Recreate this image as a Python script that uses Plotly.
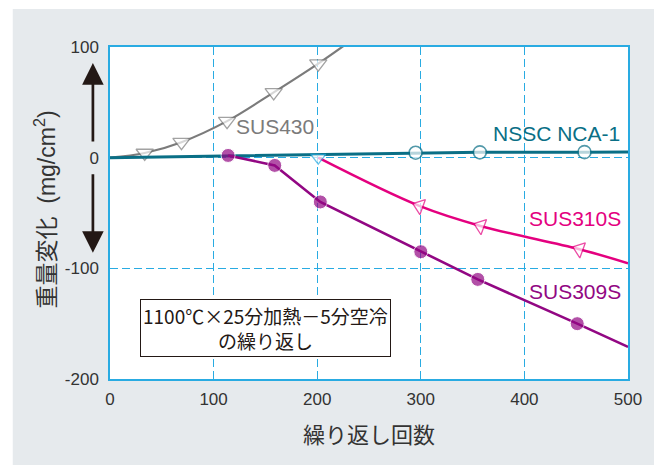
import plotly.graph_objects as go

# ---- data ----
sus430_x = [0, 33.5, 69, 113, 158, 201, 230]
sus430_y = [0, 4.2, 14, 33, 59, 85, 104]
sus430_mk = [0, 15, 15, 15, 15, 15, 0]

nca_x = [0, 100, 200, 295, 357, 458, 500]
nca_y = [0, 1.5, 3, 4.5, 4.8, 5, 5.2]
nca_mk = [0, 0, 0, 13, 13, 13, 0]

sus309_x = [114, 159, 203, 300, 355, 451, 500]
sus309_y = [2, -7, -40, -85, -110, -150, -171]
sus309_mk = [14, 14, 14, 14, 14, 14, 0]

sus310_x = [201, 298.6, 357.6, 453, 500]
sus310_y = [0, -43.6, -61.7, -82.7, -95.4]
sus310_mk = [13, 14, 14, 14, 0]

x_ticks = [0, 100, 200, 300, 400, 500]
y_ticks = [-200, -100, 0, 100]

GRAY = "#7b7b7b"
TEAL = "#0a6f86"
PINK = "#e4007f"
PURPLE = "#920783"
CYAN = "#29abe2"
TXT = "#333333"
FONT = "Liberation Sans, Noto Sans CJK JP, sans-serif"
JFONT = "Noto Sans CJK JP, sans-serif"

fig = go.Figure()

fig.add_trace(go.Scatter(
    x=sus430_x, y=sus430_y, mode="lines+markers",
    line=dict(color=GRAY, width=2.2, shape="spline"),
    marker=dict(symbol="triangle-down", size=sus430_mk, color="white",
                line=dict(color=GRAY, width=1.3)),
    showlegend=False))

fig.add_trace(go.Scatter(
    x=nca_x, y=nca_y, mode="lines+markers",
    line=dict(color=TEAL, width=3),
    marker=dict(symbol="circle", size=nca_mk, color="white",
                line=dict(color=TEAL, width=1.6)),
    showlegend=False))

fig.add_trace(go.Scatter(
    x=sus310_x, y=sus310_y, mode="lines+markers",
    line=dict(color=PINK, width=2.5, shape="spline"),
    marker=dict(symbol=["triangle-down", "triangle-left", "triangle-left", "triangle-left", "triangle-left"],
                size=sus310_mk, color="white", angle=[0, 20, 20, 20, 0],
                line=dict(color=[CYAN, PINK, PINK, PINK, PINK], width=1.3)),
    showlegend=False))

fig.add_trace(go.Scatter(
    x=sus309_x, y=sus309_y, mode="lines+markers",
    line=dict(color=PURPLE, width=2.6),
    marker=dict(symbol="circle", size=sus309_mk, color=PURPLE),
    showlegend=False))

# background panel and white plot area
fig.add_shape(type="rect", xref="paper", yref="paper", x0=-0.1877, x1=1.06,
              y0=-0.28, y1=1.1145, fillcolor="#e6eaed", line=dict(width=0), layer="below")
fig.add_shape(type="rect", xref="paper", yref="paper", x0=0, x1=1, y0=0, y1=1,
              fillcolor="white", line=dict(width=0), layer="below")

# series labels
fig.add_annotation(x=159, y=28, text="SUS430", showarrow=False,
                   font=dict(color=GRAY, size=21, family=FONT))
fig.add_annotation(x=430.5, y=22, text="NSSC NCA-1", showarrow=False,
                   font=dict(color=TEAL, size=21, family=FONT))
fig.add_annotation(x=449, y=-55.4, text="SUS310S", showarrow=False,
                   font=dict(color=PINK, size=21, family=FONT))
fig.add_annotation(x=449, y=-121, text="SUS309S", showarrow=False,
                   font=dict(color=PURPLE, size=21, family=FONT))

# condition box
fig.add_annotation(x=150.4, y=-154.3, text="1100℃×25分加熱－5分空冷<br>の繰り返し",
                   showarrow=False, font=dict(color="#231815", size=19, family=JFONT),
                   bgcolor="white", bordercolor="#231815", borderwidth=1, borderpad=2)

# arrows
fig.add_annotation(xref="paper", x=-0.033, y=85.5, ax=0, ay=80,
                   showarrow=True, arrowhead=2,
                   arrowsize=1.6, arrowwidth=2.7, arrowcolor="#231815", text="")
fig.add_annotation(xref="paper", x=-0.033, y=-86, ax=0, ay=-80,
                   showarrow=True, arrowhead=2,
                   arrowsize=1.6, arrowwidth=2.7, arrowcolor="#231815", text="")

# axis titles
fig.add_annotation(xref="paper", yref="paper", x=-0.1245, y=0.509,
                   xanchor="center", yanchor="middle",
                   text="重量変化  (mg/cm<sup>2</sup>)", textangle=-90, showarrow=False,
                   font=dict(color=TXT, size=23, family=FONT))
fig.add_annotation(xref="paper", yref="paper", x=0.5, y=-0.1627,
                   xanchor="center", yanchor="middle",
                   text="繰り返し回数", showarrow=False,
                   font=dict(color=TXT, size=22, family=JFONT))

fig.update_xaxes(range=[0, 500], tickvals=x_ticks, ticktext=[str(v) for v in x_ticks],
                 showgrid=True, gridcolor=CYAN, griddash="8px,4px", gridwidth=1,
                 showline=True, linecolor=CYAN, linewidth=1.5, mirror=True,
                 ticks="", zeroline=False, ticklabelstandoff=4,
                 tickfont=dict(color=TXT, size=17, family=FONT))
fig.update_yaxes(range=[-200, 100], tickvals=y_ticks, ticktext=[str(v) for v in y_ticks],
                 showgrid=True, gridcolor=CYAN, griddash="8px,4px", gridwidth=1,
                 showline=True, linecolor=CYAN, linewidth=1.5, mirror=True,
                 ticks="", zeroline=False, ticklabelstandoff=6,
                 tickfont=dict(color=TXT, size=17, family=FONT))

fig.update_layout(width=654, height=465,
                  margin=dict(l=110, r=22, t=47, b=86),
                  paper_bgcolor="white", plot_bgcolor="rgba(0,0,0,0)",
                  font=dict(family=FONT))

fig.write_html("out.html", config={"displayModeBar": False, "responsive": False},
               post_script="document.body.style.margin='0';document.body.style.overflow='hidden';")
